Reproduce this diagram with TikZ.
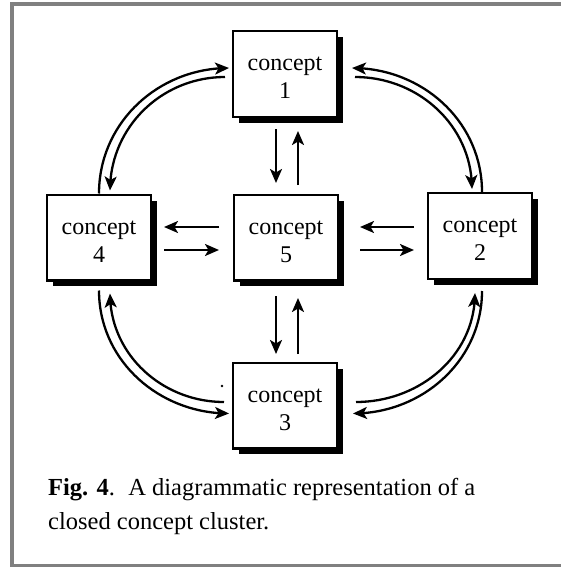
\documentclass[tikz,border=0pt]{standalone}
\usepackage{fontspec}
\setmainfont{Liberation Serif}
\usetikzlibrary{arrows.meta,bending,calc,shadows}
\definecolor{framegray}{gray}{0.5}
\newcommand{\cbox}[1]{\raisebox{-5pt}[\height][\depth]{\begin{tabular}{@{}c@{}}concept\\#1\end{tabular}}}
\begin{document}
\begin{tikzpicture}[x=1pt,y=1pt,
  conceptbox/.style={draw, line width=2.3pt, fill=white, minimum width=103.7pt, minimum height=85.7pt,
    inner sep=0pt, font=\fontsize{24}{28}\selectfont,
    drop shadow={shadow xshift=6pt, shadow yshift=-6pt, fill=black, opacity=1}},
  link/.style={line width=2.3pt, -{Stealth[length=14pt,width=12pt,inset=3.5pt]}},
  captext/.style={anchor=base west, inner sep=0pt, font=\fontsize{24.5}{28}\selectfont}]
\useasboundingbox (0,0) rectangle (560,-567);
\draw[framegray, line width=4pt] (600,-4) -- (12,-4) -- (12,-566) -- (600,-566);

\node[conceptbox] (b1) at (285,-74) {\cbox{1}};
\node[conceptbox] (b4) at (99,-237.5) {\cbox{4}};
\node[conceptbox] (b5) at (286,-237.5) {\cbox{5}};
\node[conceptbox] (b2) at (480,-236) {\cbox{2}};
\node[conceptbox] (b3) at (285,-405.5) {\cbox{3}};

% vertical arrows
\draw[link] ($(b1.south)+(-9,-11)$) -- ($(b5.north)+(-10,10.5)$);
\draw[link] ($(b5.north)+(12,8.5)$) -- ($(b1.south)+(13,-13)$);
\draw[link] ($(b5.south)+(-10,-14.5)$) -- ($(b3.north)+(-9,7.5)$);
\draw[link] ($(b3.north)+(13,7.5)$) -- ($(b5.south)+(12,-16.5)$);
% horizontal arrows
\draw[link] ($(b5.west)+(-14,10.5)$) -- ($(b4.east)+(12,10.5)$);
\draw[link] ($(b4.east)+(12,-12.5)$) -- ($(b5.west)+(-14,-12.5)$);
\draw[link] ($(b2.west)+(-13,9)$) -- ($(b5.east)+(21,10.5)$);
\draw[link] ($(b5.east)+(21,-12.5)$) -- ($(b2.west)+(-13,-14)$);
% curved arrows
\draw[link] (b4.north) to[out=90,in=180] ($(b1.west)+(-3,6)$);
\draw[link] ($(b1.west)+(-7,-3)$) to[out=180,in=90] ($(b4.north)+(11,3)$);
\draw[link] ($(b2.north)+(2,0)$) to[out=90,in=0] ($(b1.east)+(14,6)$);
\draw[link] ($(b1.east)+(17,-3)$) to[out=0,in=90] ($(b2.north)+(-8,3)$);
\draw[link] ($(b4.south)+(0,-9)$) to[out=-90,in=180] ($(b3.west)+(-3,-8)$);
\draw[link] ($(b3.west)+(-8,3.5)$) to[out=180,in=-90] ($(b4.south)+(11,-12)$);
\draw[link] ($(b2.south)+(2,-11)$) to[out=-90,in=0] ($(b3.east)+(15,-8)$);
\draw[link] ($(b3.east)+(18,3.5)$) to[out=0,in=-90] ($(b2.south)+(-5,-13)$);

\fill (222,-386) circle (1.3);

\node[captext] (cap1) at (48,-495) {\textbf{Fig. 4}.\hspace{0.55em}A diagrammatic representation of a};
\node[captext] (cap2) at (48,-529) {closed concept cluster.};
\end{tikzpicture}
\end{document}
